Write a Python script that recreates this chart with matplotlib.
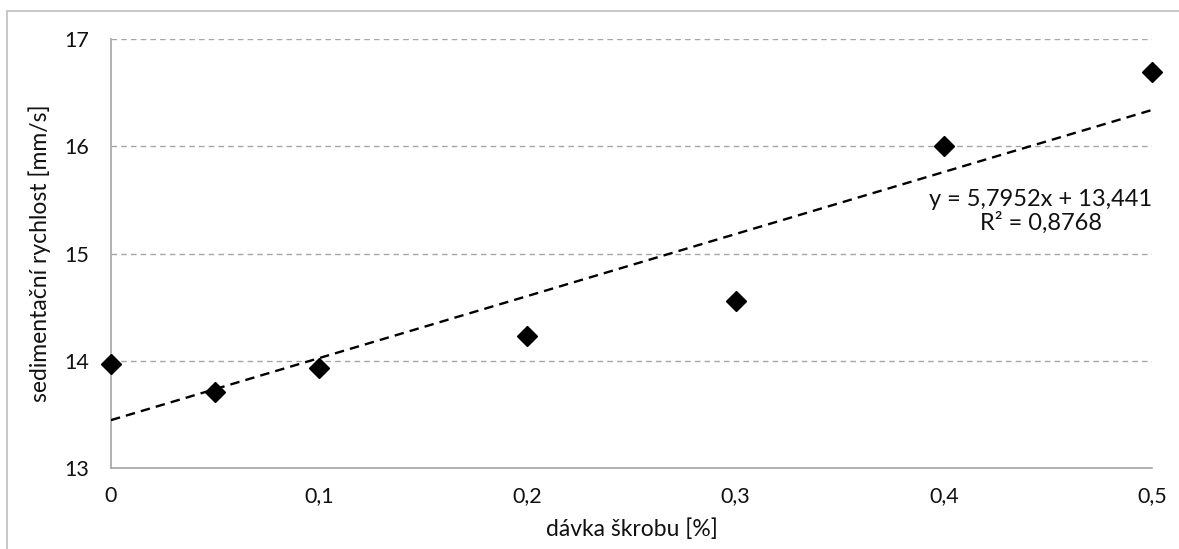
import matplotlib
matplotlib.use("Agg")
import matplotlib.pyplot as plt
import numpy as np
from matplotlib.patches import Rectangle

dose = [0, 0.05, 0.1, 0.2, 0.3, 0.4, 0.5]
speed = [13.97, 13.71, 13.93, 14.23, 14.56, 16.00, 16.69]
xticks = [0, 0.1, 0.2, 0.3, 0.4, 0.5]
xticklabels = ["0", "0,1", "0,2", "0,3", "0,4", "0,5"]
yticks = [13, 14, 15, 16, 17]
yticklabels = ["13", "14", "15", "16", "17"]
eq_text = "y = 5,7952x + 13,441\nR² = 0,8768"

plt.rcParams['font.family'] = ['Lato', 'DejaVu Sans']
TXT = "#111111"

fig = plt.figure(figsize=(11.79, 5.49), dpi=100)
ax = fig.add_axes([0.0941, 0.1475, 0.9771 - 0.0941, 0.929 - 0.1475])

# outer frame (top and left visible)
fig.patches.append(Rectangle((7/1179, -0.1), 1.2, 1 - 11/549 + 0.1, transform=fig.transFigure,
                             fill=False, edgecolor="#bfbfbf", linewidth=1.2))

coef = np.polyfit(dose, speed, 1)
xs = np.array([min(dose), max(dose)])
ax.plot(xs, np.polyval(coef, xs), color="black", linewidth=1.7, linestyle=(0, (4, 2.6)), zorder=3)
ax.plot(dose, speed, linestyle="none", marker="D", markersize=10.5, color="black", zorder=4,
        clip_on=False)

ax.set_xlim(0, 0.5)
ax.set_ylim(13, 17)
ax.set_xticks(xticks)
ax.set_xticklabels(xticklabels)
ax.set_yticks(yticks)
ax.set_yticklabels(yticklabels)
ax.tick_params(length=0, labelsize=15.5, colors=TXT)
ax.tick_params(axis='x', pad=13)
ax.tick_params(axis='y', pad=16)
ax.yaxis.grid(True, color="#a6a6a6", linestyle=(0, (4, 3)), linewidth=1)
ax.set_axisbelow(True)
for s in ["top", "right"]:
    ax.spines[s].set_visible(False)
for s in ["left", "bottom"]:
    ax.spines[s].set_color("#a6a6a6")
    ax.spines[s].set_linewidth(1.2)

ax.set_xlabel("dávka škrobu [%]", fontsize=16.5, color=TXT, labelpad=9)
ax.set_ylabel("sedimentační rychlost [mm/s]", fontsize=16.5, color=TXT, labelpad=9)

ax.text(0.4466, 15.39, eq_text, ha="center", va="center", fontsize=17, color=TXT,
        linespacing=1.1)

fig.savefig("out.png", dpi=100)
